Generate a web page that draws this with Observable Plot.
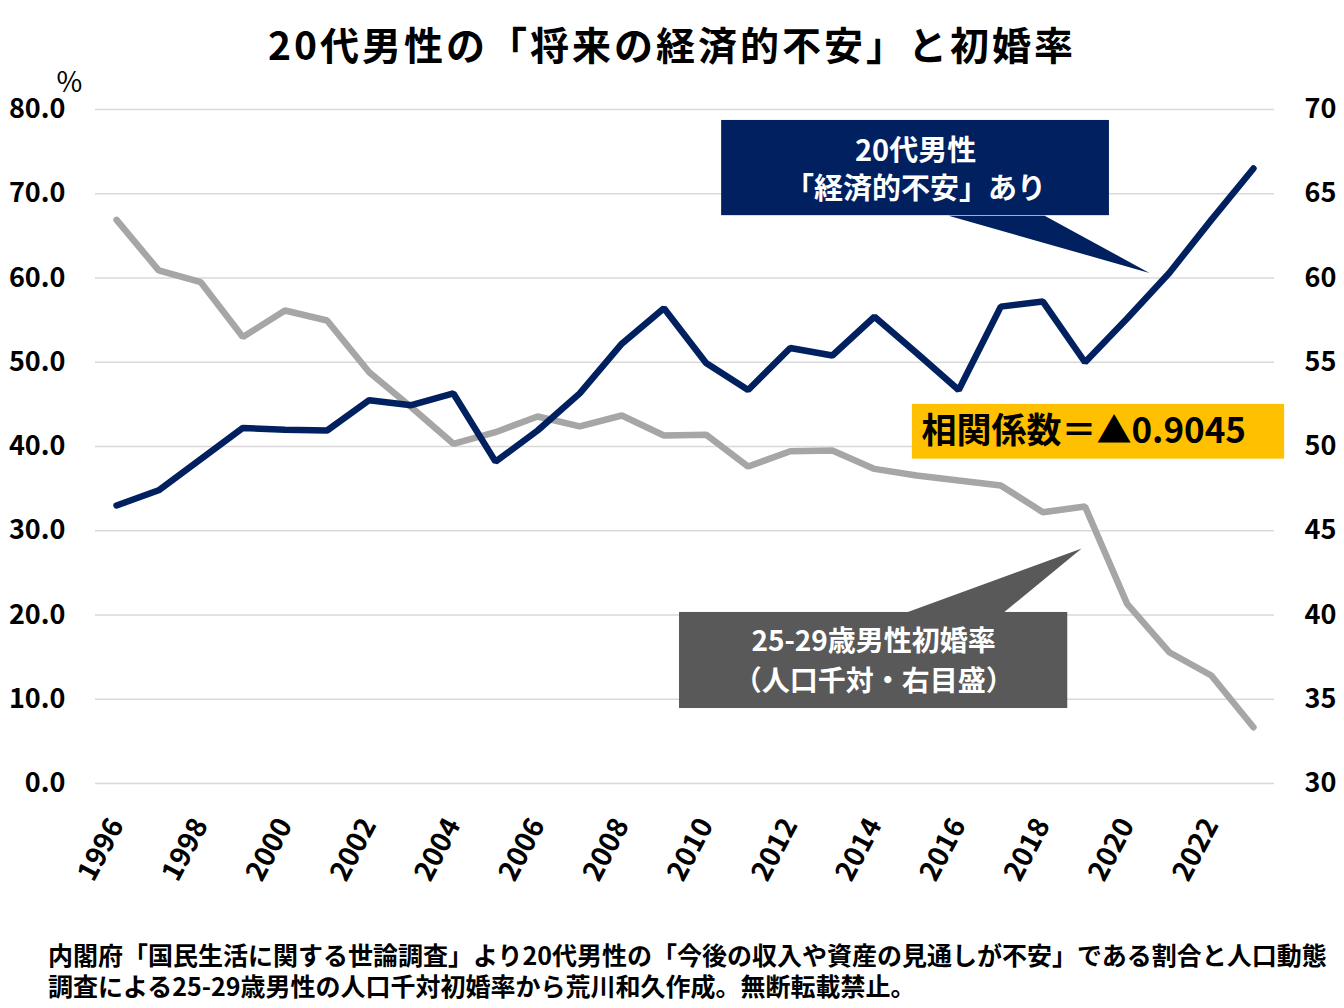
<!DOCTYPE html>
<html><head><meta charset="utf-8">
<script src="https://cdn.jsdelivr.net/npm/d3@7"></script>
<script src="https://cdn.jsdelivr.net/npm/@observablehq/plot@0.6"></script>
<style>
body{margin:0;background:#fff;font-family:"Noto Sans CJK JP",sans-serif;}
#wrap{width:1344px;height:1008px;position:relative;overflow:hidden;background:#fff}
#title{height:60px;padding-top:13px;line-height:60px;text-align:center;font-size:39px;font-weight:bold;letter-spacing:3px;color:#000;white-space:nowrap}
#chart{height:850px}
#foot{padding-left:48px;padding-top:16px;font-size:25px;font-weight:bold;color:#000;white-space:nowrap}
#foot div{height:31px;line-height:31px;overflow:visible}
</style></head>
<body><div id="wrap">
<div id="title">20代男性の「将来の経済的不安」と初婚率</div>
<div id="chart"></div>
<div id="foot"><div>内閣府「国民生活に関する世論調査」より20代男性の「今後の収入や資産の見通しが不安」である割合と人口動態</div><div>調査による25-29歳男性の人口千対初婚率から荒川和久作成。無断転載禁止。</div></div>
</div>
<script>
// ---- data ----
const years = [1996,1997,1998,1999,2000,2001,2002,2003,2004,2005,2006,2007,2008,2009,2010,2011,2012,2013,2014,2015,2016,2017,2018,2019,2020,2021,2022,2023];
// 20代男性「経済的不安」あり (%) — left axis
const anxiety = [33.0,34.8,38.5,42.2,42.0,41.9,45.5,44.9,46.3,38.2,41.9,46.3,52.2,56.4,49.9,46.7,51.7,50.8,55.4,51.1,46.7,56.6,57.2,50.0,55.2,60.6,66.9,73.0];
// 25-29歳男性初婚率 (人口千対) — right axis
const marriage = [63.45,60.45,59.75,56.5,58.07,57.48,54.41,52.33,50.16,50.85,51.78,51.19,51.84,50.65,50.7,48.81,49.72,49.76,48.67,48.28,47.98,47.69,46.10,46.44,40.66,37.79,36.41,33.34];
const leftTicks = [0,10,20,30,40,50,60,70,80];
const rightTicks = [30,35,40,45,50,55,60,65,70];
const xTicks = [1996,1998,2000,2002,2004,2006,2008,2010,2012,2014,2016,2018,2020,2022];

const rows = years.map((year, i) => ({year, anxiety: anxiety[i], marriage: marriage[i]}));
// right axis (30–70) mapped onto left axis (0–80)
const toLeft = v => (v - 30) * 2;

// ---- annotations (data units) ----
const navyBox = {x1: 2010.37, x2: 2019.58, y1: 67.4, y2: 78.7};
const navyTri = [{x: 2015.76, y: 67.4}, {x: 2020.53, y: 60.6}, {x: 2018.04, y: 67.4}];
const grayBox = {x1: 2009.37, x2: 2018.59, y1: 8.9, y2: 20.3};
const grayTri = [{x: 2014.76, y: 20.3}, {x: 2018.92, y: 27.9}, {x: 2017.07, y: 20.3}];
const yellowBox = {x1: 2014.9, x2: 2023.74, y1: 38.5, y2: 45.0};

const font = "Noto Sans CJK JP";

const chart = Plot.plot({
  width: 1344,
  height: 850,
  marginLeft: 95,
  marginRight: 70,
  marginTop: 36,
  marginBottom: 140,
  style: {fontFamily: font, fontWeight: "bold", fontSize: "27px", color: "#000", background: "#fff", overflow: "visible"},
  x: {domain: [1995.5, 2023.5]},
  y: {domain: [0, 80]},
  marks: [
    Plot.gridY(leftTicks, {stroke: "#d9d9d9", strokeOpacity: 1, strokeWidth: 1.5}),
    Plot.axisY(leftTicks, {anchor: "left", tickSize: 0, tickPadding: 30, tickFormat: d => d.toFixed(1), label: null, fontSize: 27}),
    Plot.axisY(rightTicks.map(toLeft), {anchor: "right", tickSize: 0, tickPadding: 30, tickFormat: d => String(30 + d / 2), label: null, fontSize: 27}),
    Plot.axisX(xTicks, {anchor: "bottom", tickSize: 0, tickPadding: 37, tickRotate: -62, tickFormat: d => String(d), label: null, fontSize: 28}),
    Plot.text(["%"], {frameAnchor: "top-left", dx: -39, dy: -37, fontSize: 28, fontWeight: "normal", fill: "#000"}),
    Plot.line(rows, {x: "year", y: d => toLeft(d.marriage), stroke: "#a6a6a6", strokeWidth: 6.5, strokeLinejoin: "miter"}),
    Plot.line(rows, {x: "year", y: "anxiety", stroke: "#002060", strokeWidth: 6.5, strokeLinejoin: "miter"}),
    // navy callout
    Plot.rect([navyBox], {x1: "x1", x2: "x2", y1: "y1", y2: "y2", fill: "#002060"}),
    Plot.line(navyTri, {x: "x", y: "y", fill: "#002060", stroke: "none", curve: "linear-closed"}),
    Plot.text(["20代男性\n「経済的不安」あり"], {x: (navyBox.x1 + navyBox.x2) / 2, y: (navyBox.y1 + navyBox.y2) / 2, fill: "#fff", fontSize: 29, lineHeight: 1.3, textAnchor: "middle"}),
    // gray callout
    Plot.rect([grayBox], {x1: "x1", x2: "x2", y1: "y1", y2: "y2", fill: "#595959"}),
    Plot.line(grayTri, {x: "x", y: "y", fill: "#595959", stroke: "none", curve: "linear-closed"}),
    Plot.text(["25-29歳男性初婚率\n（人口千対・右目盛）"], {x: (grayBox.x1 + grayBox.x2) / 2, y: (grayBox.y1 + grayBox.y2) / 2, dy: -2, fill: "#fff", fontSize: 28, lineHeight: 1.4, textAnchor: "middle"}),
    // correlation box
    Plot.rect([yellowBox], {x1: "x1", x2: "x2", y1: "y1", y2: "y2", fill: "#ffc000"}),
    Plot.text(["相関係数＝▲0.9045"], {x: yellowBox.x1, y: (yellowBox.y1 + yellowBox.y2) / 2, dx: 9, textAnchor: "start", fill: "#000", fontSize: 35})
  ]
});
document.getElementById("chart").append(chart);
</script>
</body></html>
